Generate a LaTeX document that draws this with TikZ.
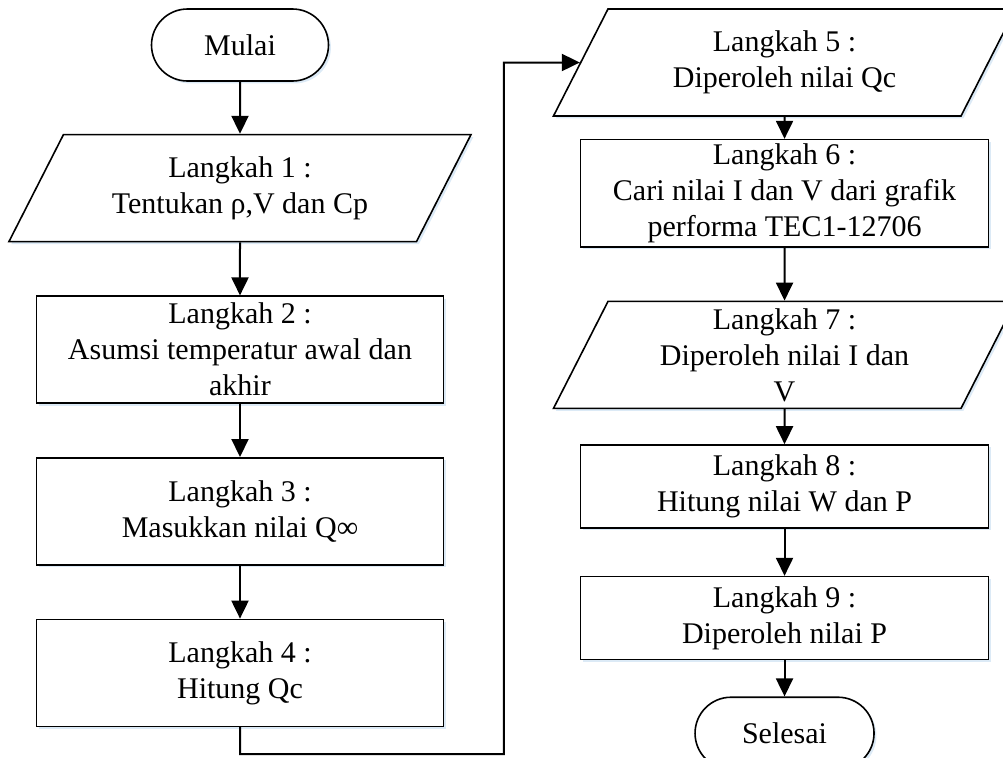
\documentclass[tikz,border=0pt]{standalone}
\usepackage{fontspec}
\setmainfont{Liberation Serif}
\usepackage{tikz}
\usetikzlibrary{arrows.meta, positioning, shapes.geometric, shadows}
\definecolor{shadeblue}{RGB}{205, 225, 242}
% fixed text box for the slanted input/output shapes
\newcommand{\iotext}[1]{\parbox[c][53.5pt][c]{176.5pt}{\centering #1}}

\begin{document}
\begin{tikzpicture}[>={Triangle[length=9pt, width=8.5pt]}, line width=1pt,
    every node/.style={font=\fontsize{15pt}{18pt}\selectfont, align=center},
    softshadow/.style={drop shadow={shadow xshift=1.2pt, shadow yshift=-1.2pt, fill=shadeblue, opacity=0.7}},
    termbox/.style={draw, rectangle, rounded corners=18pt, minimum width=88.5pt, minimum height=36pt, line width=0.8pt, fill=white, softshadow},
    stepbox/.style={draw, rectangle, minimum width=203.5pt, minimum height=53.5pt, line width=0.8pt, fill=white, softshadow, inner sep=2pt},
    iobox/.style={draw, trapezium, trapezium left angle=63, trapezium right angle=117, line width=0.8pt, fill=white, softshadow, inner sep=0pt}]
  \useasboundingbox (0,0) rectangle (501.5pt,-378.5pt);

  % left column
  \node[termbox] (start) at (120pt,-22.5pt) {Mulai};
  \node[iobox, below=26pt of start] (s1) {\iotext{Langkah 1 :\\ Tentukan ρ,V dan Cp}};
  \node[stepbox, below=26.5pt of s1] (s2) {Langkah 2 :\\ Asumsi temperatur awal dan\\ akhir};
  \node[stepbox, below=26.5pt of s2] (s3) {Langkah 3 :\\ Masukkan nilai Q∞};
  \node[stepbox, below=26.5pt of s3] (s4) {Langkah 4 :\\ Hitung Qc};

  % right column
  \node[iobox] (s5) at (392.25pt,-31.25pt) {\iotext{Langkah 5 :\\ Diperoleh nilai Qc}};
  \node[stepbox, minimum width=204pt, below=11pt of s5] (s6) {Langkah 6 :\\ Cari nilai I dan V dari grafik\\ performa TEC1-12706};
  \node[iobox, below=26.5pt of s6] (s7) {\iotext{Langkah 7 :\\ Diperoleh nilai I dan\\ V}};
  \node[stepbox, minimum width=204pt, minimum height=41.5pt, below=17.5pt of s7] (s8) {Langkah 8 :\\ Hitung nilai W dan P};
  \node[stepbox, minimum width=204pt, minimum height=41.5pt, below=23.5pt of s8] (s9) {Langkah 9 :\\ Diperoleh nilai P};
  \node[termbox, minimum width=89.5pt, below=18pt of s9] (stop) {Selesai};

  \coordinate[below=13.5pt of s4.south] (loopa);
  \coordinate[left=38pt of s5.west] (loopb);

  \draw[->] (start) -- (s1);
  \draw[->] (s1) -- (s2);
  \draw[->] (s2) -- (s3);
  \draw[->] (s3) -- (s4);
  \draw[->] (s4) -- (loopa) -| (loopb) -- (s5);
  \draw[->] (s5) -- (s6);
  \draw[->] (s6) -- (s7);
  \draw[->] (s7) -- (s8);
  \draw[->] (s8) -- (s9);
  \draw[->] (s9) -- (stop);
\end{tikzpicture}
\end{document}
